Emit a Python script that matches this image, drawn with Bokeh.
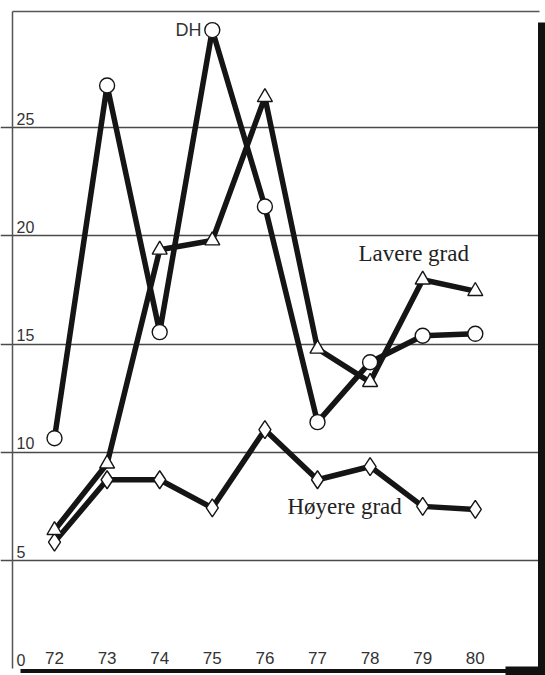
from bokeh.plotting import figure
from bokeh.models import Range1d, Grid, FixedTicker
from bokeh.core.properties import value
from bokeh.embed import file_html
from bokeh.resources import INLINE

# ---- data ----
years = [72, 73, 74, 75, 76, 77, 78, 79, 80]
year_labels = ["72", "73", "74", "75", "76", "77", "78", "79", "80"]
dh = [10.65, 26.94, 15.55, 29.5, 21.35, 11.39, 14.16, 15.38, 15.47]
lavere = [6.4, 9.47, 19.35, 19.78, 26.4, 14.78, 13.24, 17.97, 17.44]
hoyere = [5.85, 8.73, 8.73, 7.43, 11.04, 8.73, 9.34, 7.5, 7.36]
y_ticks = [0, 5, 10, 15, 20, 25]
y_tick_labels = ["0", "5", "10", "15", "20", "25"]

# ---- pixel helpers (screenshot coords; canvas appears at 0,0) ----
def px_x(page):
    return 72 + (page - 54) / 52.6

def px_y(page):
    return 5 + (560 - page) / 21.65

W, H = 545, 675
p = figure(width=W, height=H, output_backend="svg", toolbar_location=None,
           x_axis_type=None, y_axis_type=None,
           x_range=Range1d(px_x(0), px_x(W)),
           y_range=Range1d(px_y(H), px_y(0)),
           min_border=0, min_border_left=0, min_border_right=0,
           min_border_top=0, min_border_bottom=0)
p.outline_line_color = None
p.background_fill_color = "white"
p.border_fill_color = "white"

# horizontal grid lines
grid = Grid(dimension=1, ticker=FixedTicker(ticks=y_ticks[1:]),
            grid_line_color="#4a4a4a", grid_line_width=1.4,
            bounds=(px_x(12), px_x(538)))
p.add_layout(grid, "center")

# frame (thin left/top, heavy shadow right/bottom)
p.segment(x0=[px_x(12), px_x(12)], y0=[px_y(11), px_y(11)],
          x1=[px_x(12), px_x(539)], y1=[px_y(668), px_y(11)],
          line_color="#555555", line_width=1.5)
p.quad(left=[px_x(537.5)], right=[px_x(546)], top=[px_y(22)], bottom=[px_y(676)],
       fill_color="#111111", line_color=None)
p.quad(left=[px_x(20)], right=[px_x(546)], top=[px_y(668.5)], bottom=[px_y(672.5)],
       fill_color="#111111", line_color=None)
p.quad(left=[px_x(505)], right=[px_x(546)], top=[px_y(666)], bottom=[px_y(676)],
       fill_color="#111111", line_color=None)

# series lines
for ys in (dh, lavere, hoyere):
    p.line(years, ys, line_color="#151515", line_width=5.5, line_join="bevel")

# markers
p.scatter(years, hoyere, marker="diamond", size=18, fill_color="white",
          line_color="#151515", line_width=1.4)
p.scatter(years, lavere, marker="triangle", size=15, fill_color="white",
          line_color="#151515", line_width=1.4)
p.scatter(years, dh, marker="circle", size=15, fill_color="white",
          line_color="#151515", line_width=1.4)

# tick labels (inside the frame)
p.text(x=[px_x(16)] * len(y_ticks), y=y_ticks, text=y_tick_labels,
       text_font=value("Liberation Sans"), text_font_size="16px",
       text_color="#333333", text_align="left", text_baseline="middle",
       y_offset=-9)
p.text(x=years, y=[0] * len(years), text=year_labels,
       text_font=value("Liberation Sans"), text_font_size="17px",
       text_color="#333333", text_align="center", text_baseline="middle",
       y_offset=-11)

# series labels
p.text(x=[px_x(175)], y=[px_y(29.5)], text=["DH"],
       text_font=value("Liberation Sans"), text_font_size="18px",
       text_color="#333333", text_align="left", text_baseline="middle")
p.text(x=[px_x(358), px_x(287)], y=[px_y(252.5), px_y(505.5)],
       text=["Lavere grad", "Høyere grad"],
       text_font=value("Liberation Serif"), text_font_size="23px",
       text_color="#222222", text_align="left", text_baseline="middle")

open("out.html", "w").write(file_html(p, INLINE))
